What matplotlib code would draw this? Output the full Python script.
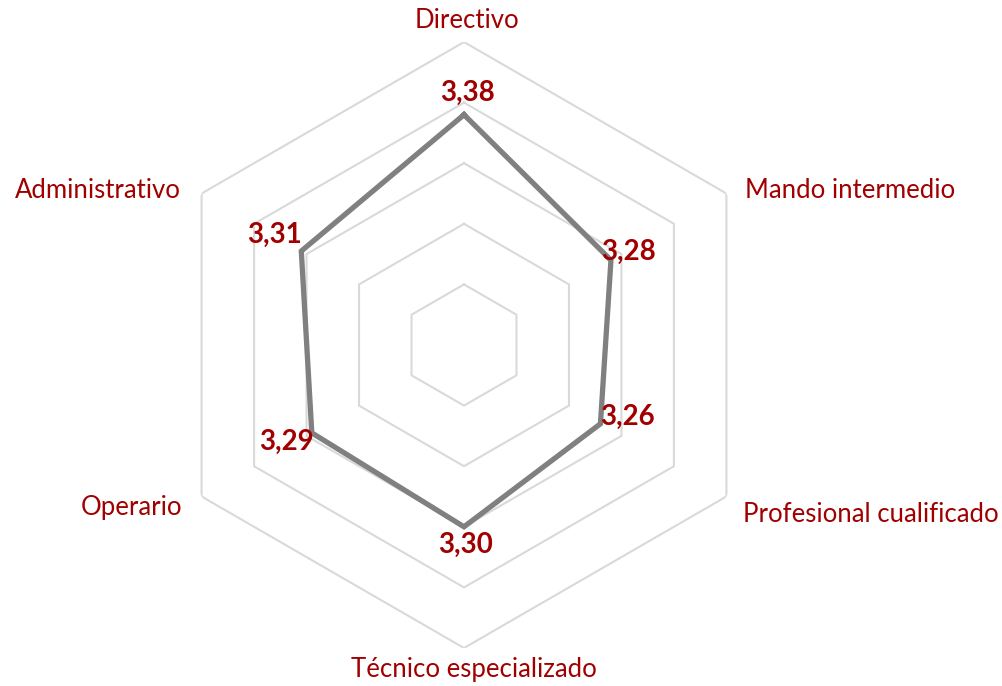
import numpy as np
import matplotlib.pyplot as plt

categories = ["Directivo", "Mando intermedio", "Profesional cualificado",
              "Técnico especializado", "Operario", "Administrativo"]
values = [3.38, 3.28, 3.26, 3.30, 3.29, 3.31]
value_labels = ["3,38", "3,28", "3,26", "3,30", "3,29", "3,31"]
ring_levels = [3.1, 3.2, 3.3, 3.4, 3.5]

red = "#A00000"
plt.rcParams['font.family'] = ['Lato', 'DejaVu Sans']

fig = plt.figure(figsize=(10.02, 6.86), dpi=100)
W, H = 1002, 686
cx, cy, R = 464, 345, 303
ax = fig.add_axes([(cx - R) / W, (H - cy - R) / H, 2 * R / W, 2 * R / H], projection='polar')
ax.set_theta_offset(np.pi / 2)
ax.set_theta_direction(-1)
ax.set_ylim(3.0, 3.5)
ax.grid(False)
ax.set_xticks([])
ax.set_yticks([])
ax.spines['polar'].set_visible(False)
ax.patch.set_alpha(0)

n = len(categories)
angles = np.linspace(0, 2 * np.pi, n, endpoint=False)
closed = np.append(angles, angles[0])

# hexagonal gridlines only, no spokes
for lev in ring_levels:
    ax.plot(closed, [lev] * (n + 1), color="#D9D9D9", lw=1.5, zorder=1)

ax.plot(closed, values + [values[0]], color="#808080", lw=3.8, zorder=3,
        solid_joinstyle='miter')

# value labels (pixel offsets from each point)
offsets = [(4, 22), (18, 8), (27, 7), (2, -18), (-25, -9), (-27, 16)]
for a, v, lab, (dx, dy) in zip(angles, values, value_labels, offsets):
    ax.annotate(lab, xy=(a, v), xytext=(dx * 0.72, dy * 0.72), textcoords='offset points',
                ha='center', va='center', color=red, fontsize=20, fontweight='bold',
                zorder=5, annotation_clip=False)

# category labels
label_pos = [(467, 21, 'center'), (745, 190, 'left'), (743, 515, 'left'),
             (474, 670, 'center'), (182, 507, 'right'), (181, 190, 'right')]
for name, (px, py, ha) in zip(categories, label_pos):
    fig.text(px / W, 1 - py / H, name, ha=ha, va='center', color=red, fontsize=18.5)

fig.savefig("out.png", dpi=100)
